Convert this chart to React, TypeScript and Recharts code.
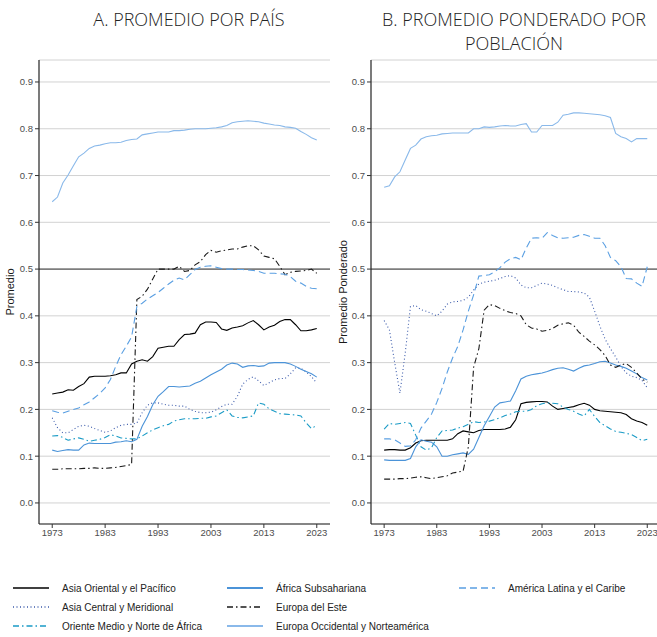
import { CartesianGrid, Line, LineChart, ReferenceLine, XAxis, YAxis } from "recharts";

const YEARS = [
  1973, 1974, 1975, 1976, 1977, 1978, 1979, 1980, 1981, 1982,
  1983, 1984, 1985, 1986, 1987, 1988, 1989, 1990, 1991, 1992,
  1993, 1994, 1995, 1996, 1997, 1998, 1999, 2000, 2001, 2002,
  2003, 2004, 2005, 2006, 2007, 2008, 2009, 2010, 2011, 2012,
  2013, 2014, 2015, 2016, 2017, 2018, 2019, 2020, 2021, 2022,
  2023,
];

const X_TICKS = [1973, 1983, 1993, 2003, 2013, 2023];
const Y_TICKS = [0, 0.1, 0.2, 0.3, 0.4, 0.5, 0.6, 0.7, 0.8, 0.9];

// A. Promedio por país
const A_ASIA_ORIENTAL = [
  0.233, 0.235, 0.237, 0.242, 0.241, 0.249, 0.255, 0.269, 0.271, 0.271,
  0.271, 0.272, 0.274, 0.278, 0.278, 0.297, 0.303, 0.306, 0.303, 0.313,
  0.331, 0.333, 0.335, 0.335, 0.349, 0.36, 0.361, 0.363, 0.381, 0.387,
  0.387, 0.386, 0.372, 0.369, 0.374, 0.376, 0.379, 0.385, 0.39, 0.381,
  0.37, 0.376, 0.38, 0.388, 0.392, 0.392, 0.381, 0.368, 0.368, 0.37,
  0.373,
];
const A_ASIA_CENTRAL = [
  0.182, 0.161, 0.15, 0.15, 0.157, 0.164, 0.166, 0.164, 0.159, 0.155,
  0.151, 0.154, 0.161, 0.166, 0.168, 0.168, 0.171, 0.193, 0.209, 0.214,
  0.214, 0.211, 0.209, 0.209, 0.207, 0.207, 0.2, 0.196, 0.193, 0.193,
  0.194, 0.199, 0.206, 0.211, 0.211, 0.228, 0.254, 0.264, 0.27, 0.261,
  0.251, 0.257, 0.263, 0.266, 0.266, 0.276, 0.289, 0.288, 0.28, 0.27,
  0.256,
];
const A_ORIENTE = [
  0.143, 0.144, 0.14, 0.134, 0.137, 0.139, 0.136, 0.132, 0.134, 0.136,
  0.14, 0.146, 0.143, 0.139, 0.138, 0.137, 0.137, 0.143, 0.15, 0.156,
  0.161, 0.165, 0.168, 0.175, 0.178, 0.18, 0.18, 0.18, 0.181, 0.181,
  0.184, 0.186, 0.193, 0.199, 0.186, 0.183, 0.182, 0.184, 0.186, 0.214,
  0.211, 0.201, 0.196, 0.191, 0.19, 0.189, 0.188, 0.186, 0.171, 0.159,
  0.166,
];
const A_AFRICA = [
  0.113, 0.11, 0.112, 0.114, 0.113, 0.113, 0.124, 0.128, 0.127, 0.127,
  0.127, 0.127, 0.13, 0.131, 0.133, 0.131, 0.136, 0.164, 0.185, 0.21,
  0.228, 0.238, 0.249, 0.249, 0.248, 0.249, 0.25, 0.256, 0.26, 0.267,
  0.274, 0.28, 0.286, 0.295, 0.299, 0.297, 0.29, 0.293, 0.294, 0.292,
  0.293, 0.299, 0.3, 0.3, 0.3, 0.297, 0.292, 0.286, 0.281, 0.276,
  0.269,
];
const A_EUROPA_ESTE = [
  0.072, 0.072, 0.073, 0.073, 0.073, 0.073, 0.074, 0.074, 0.075, 0.074,
  0.074, 0.075, 0.076, 0.078, 0.08, 0.082, 0.435, 0.442, 0.457, 0.479,
  0.5, 0.5, 0.5, 0.5, 0.506, 0.495, 0.497, 0.509, 0.516, 0.531,
  0.54, 0.536, 0.539, 0.541, 0.543, 0.543, 0.547, 0.55, 0.55, 0.541,
  0.528, 0.525, 0.522, 0.506, 0.488, 0.493, 0.495, 0.496, 0.497, 0.5,
  0.491,
];
const A_EUROPA_OCC = [
  0.644, 0.654, 0.684, 0.701, 0.721, 0.74, 0.748, 0.758, 0.763, 0.765,
  0.768, 0.77, 0.77, 0.771, 0.775, 0.777, 0.778, 0.787, 0.789, 0.791,
  0.793, 0.793, 0.793, 0.796, 0.796, 0.797, 0.799, 0.8, 0.8, 0.8,
  0.801, 0.802, 0.804, 0.807, 0.813, 0.815, 0.816, 0.817, 0.816, 0.815,
  0.812, 0.81, 0.808, 0.807, 0.804, 0.803, 0.801, 0.794, 0.788, 0.781,
  0.776,
];
const A_AMERICA_LATINA = [
  0.197, 0.194, 0.192, 0.196, 0.2, 0.203, 0.21, 0.216, 0.225, 0.234,
  0.246, 0.264, 0.292, 0.317, 0.335, 0.355, 0.42, 0.427, 0.436, 0.443,
  0.45, 0.459, 0.468, 0.476, 0.481, 0.477, 0.488, 0.499, 0.504, 0.506,
  0.507, 0.504, 0.501, 0.5, 0.5, 0.499, 0.499, 0.498, 0.497, 0.495,
  0.491, 0.491, 0.491, 0.49, 0.489, 0.484, 0.474, 0.47, 0.463, 0.459,
  0.458,
];

// B. Promedio ponderado por población
const B_ASIA_ORIENTAL = [
  0.113, 0.114, 0.114, 0.113, 0.113, 0.118, 0.128, 0.133, 0.134, 0.134,
  0.134, 0.134, 0.134, 0.137, 0.148, 0.154, 0.152, 0.15, 0.155, 0.157,
  0.157, 0.157, 0.157, 0.158, 0.162, 0.178, 0.212, 0.215, 0.216, 0.217,
  0.217, 0.216, 0.207, 0.2, 0.202, 0.204, 0.206, 0.21, 0.213, 0.209,
  0.2, 0.197, 0.196, 0.195, 0.194, 0.193, 0.189, 0.18, 0.175, 0.172,
  0.166,
];
const B_ASIA_CENTRAL = [
  0.39, 0.37, 0.3, 0.235, 0.32, 0.42, 0.422, 0.413, 0.41, 0.405,
  0.4, 0.41, 0.425, 0.43, 0.431, 0.433, 0.44, 0.455, 0.468, 0.472,
  0.474, 0.476, 0.48, 0.484, 0.486, 0.481, 0.466, 0.46, 0.46, 0.465,
  0.47, 0.468, 0.465, 0.46, 0.456, 0.452, 0.452, 0.451, 0.449, 0.44,
  0.41, 0.378, 0.35, 0.33, 0.312, 0.292, 0.278, 0.271, 0.268, 0.262,
  0.246,
];
const B_ORIENTE = [
  0.158, 0.17, 0.168, 0.17, 0.172, 0.17, 0.145, 0.12, 0.113, 0.118,
  0.14, 0.154, 0.155, 0.156, 0.16, 0.163, 0.168, 0.174, 0.172, 0.173,
  0.175, 0.178, 0.182, 0.187, 0.19, 0.195, 0.196, 0.196, 0.2, 0.208,
  0.212, 0.214, 0.213, 0.212, 0.205, 0.2, 0.196, 0.19, 0.186, 0.2,
  0.185, 0.172, 0.165, 0.158, 0.153, 0.151, 0.149, 0.146, 0.14, 0.133,
  0.136,
];
const B_AFRICA = [
  0.092, 0.091, 0.091, 0.091, 0.091, 0.095, 0.12, 0.135, 0.132, 0.13,
  0.12, 0.1, 0.1, 0.103, 0.105, 0.107, 0.104, 0.115, 0.14, 0.165,
  0.185, 0.205, 0.214, 0.216, 0.218, 0.24, 0.265, 0.271, 0.274, 0.276,
  0.278, 0.281, 0.285, 0.288, 0.289, 0.286, 0.282, 0.288, 0.293, 0.295,
  0.298, 0.302, 0.303, 0.299, 0.295, 0.292, 0.288, 0.282, 0.276, 0.268,
  0.263,
];
const B_EUROPA_ESTE = [
  0.051, 0.051, 0.051, 0.052, 0.052, 0.053, 0.055, 0.056, 0.054, 0.052,
  0.054, 0.056, 0.058, 0.064, 0.066, 0.068, 0.12, 0.29, 0.33, 0.412,
  0.424, 0.422, 0.416, 0.411, 0.407, 0.405, 0.4, 0.381, 0.374, 0.372,
  0.367, 0.369, 0.373, 0.38, 0.383, 0.385, 0.38, 0.365, 0.356, 0.346,
  0.338, 0.328, 0.315, 0.295, 0.29, 0.295, 0.298, 0.29, 0.278, 0.265,
  0.258,
];
const B_EUROPA_OCC = [
  0.675, 0.678, 0.697, 0.708, 0.733, 0.758, 0.765, 0.778, 0.783, 0.785,
  0.786, 0.789, 0.79, 0.791, 0.791, 0.791, 0.791, 0.8, 0.8, 0.804,
  0.803, 0.804, 0.806, 0.807, 0.806, 0.806, 0.809, 0.811, 0.793, 0.793,
  0.807, 0.807, 0.807, 0.814, 0.829, 0.831, 0.834, 0.834, 0.833, 0.832,
  0.831, 0.83, 0.828, 0.824, 0.79, 0.783, 0.779, 0.772, 0.779, 0.779,
  0.779,
];
const B_AMERICA_LATINA = [
  0.137, 0.137, 0.135, 0.128, 0.121, 0.122, 0.135, 0.16, 0.175, 0.19,
  0.215, 0.245, 0.28, 0.31, 0.335, 0.37, 0.41, 0.445, 0.485, 0.486,
  0.488, 0.494, 0.503, 0.515, 0.522, 0.525, 0.52, 0.545, 0.566, 0.567,
  0.566, 0.578, 0.572, 0.567, 0.566, 0.567, 0.568, 0.572, 0.574, 0.57,
  0.566, 0.566, 0.55, 0.525, 0.518, 0.505, 0.48, 0.479, 0.47, 0.463,
  0.505,
];

const SERIES = [
  { key: "asiaOriental", name: "Asia Oriental y el Pacífico", color: "#000000", dash: undefined },
  { key: "asiaCentral", name: "Asia Central y Meridional", color: "#3c5bab", dash: "1 2.5" },
  { key: "oriente", name: "Oriente Medio y Norte de África", color: "#1a9bc6", dash: "6 3 1.5 3" },
  { key: "africa", name: "África Subsahariana", color: "#4b93d8", dash: undefined },
  { key: "europaEste", name: "Europa del Este", color: "#1a1a1a", dash: "6 3 1.5 3" },
  { key: "europaOcc", name: "Europa Occidental y Norteamérica", color: "#8ab9ea", dash: undefined },
  { key: "americaLatina", name: "América Latina y el Caribe", color: "#5a9fe2", dash: "7 4" },
];

const dataA = YEARS.map((year, i) => ({
  year,
  asiaOriental: A_ASIA_ORIENTAL[i],
  asiaCentral: A_ASIA_CENTRAL[i],
  oriente: A_ORIENTE[i],
  africa: A_AFRICA[i],
  europaEste: A_EUROPA_ESTE[i],
  europaOcc: A_EUROPA_OCC[i],
  americaLatina: A_AMERICA_LATINA[i],
}));

const dataB = YEARS.map((year, i) => ({
  year,
  asiaOriental: B_ASIA_ORIENTAL[i],
  asiaCentral: B_ASIA_CENTRAL[i],
  oriente: B_ORIENTE[i],
  africa: B_AFRICA[i],
  europaEste: B_EUROPA_ESTE[i],
  europaOcc: B_EUROPA_OCC[i],
  americaLatina: B_AMERICA_LATINA[i],
}));

// legend placement: column x and row
const LEGEND_POS = [
  { x: 12, row: 0 },
  { x: 12, row: 1 },
  { x: 12, row: 2 },
  { x: 226, row: 0 },
  { x: 226, row: 1 },
  { x: 226, row: 2 },
  { x: 458, row: 0 },
];

const FONT = "'Liberation Sans', Arial, sans-serif";

interface PanelProps {
  data: typeof dataA;
  width: number;
  yAxisWidth: number;
  yLabel: string;
  labelOffset: number;
  xMax: number;
}

function Panel({ data, width, yAxisWidth, yLabel, labelOffset, xMax }: PanelProps) {
  return (
    <LineChart
      width={width}
      height={544}
      data={data}
      margin={{ top: 60, right: 0, bottom: 0, left: 0 }}
      style={{ fontFamily: FONT }}
    >
      <CartesianGrid vertical={false} stroke="#d2d2d2" strokeWidth={1} />
      <XAxis
        dataKey="year"
        type="number"
        domain={[1970.5, xMax]}
        ticks={X_TICKS}
        interval={0}
        allowDataOverflow
        height={20}
        tick={{ fontSize: 9.5, fill: "#4d4d4d" }}
        tickSize={4}
        tickMargin={1}
        axisLine={{ stroke: "#222", strokeWidth: 1.2 }}
        tickLine={{ stroke: "#333" }}
      />
      <YAxis
        type="number"
        domain={[-0.045, 0.947]}
        ticks={Y_TICKS}
        interval={0}
        allowDataOverflow
        width={yAxisWidth}
        tickFormatter={(v: number) => v.toFixed(1)}
        tick={{ fontSize: 9.5, fill: "#4d4d4d" }}
        tickSize={4}
        tickMargin={2}
        axisLine={{ stroke: "#222", strokeWidth: 1.2 }}
        tickLine={{ stroke: "#333" }}
        label={{
          value: yLabel,
          angle: -90,
          position: "insideLeft",
          offset: labelOffset,
          style: { textAnchor: "middle", fontSize: 11, fill: "#1a1a1a" },
        }}
      />
      <ReferenceLine y={0.5} stroke="#333" strokeWidth={1} />
      {SERIES.map((s) => (
        <Line
          key={s.key}
          dataKey={s.key}
          name={s.name}
          stroke={s.color}
          strokeWidth={1.1}
          strokeDasharray={s.dash}
          dot={false}
          activeDot={false}
          isAnimationActive={false}
        />
      ))}
    </LineChart>
  );
}

const titleStyle: React.CSSProperties = {
  position: "absolute",
  fontFamily: "'Open Sans', sans-serif",
  fontWeight: 300,
  fontSize: 18,
  lineHeight: "24px",
  color: "#222",
  textAlign: "center",
  whiteSpace: "nowrap",
};

export default function App() {
  return (
    <div
      style={{
        position: "absolute",
        left: 0,
        top: 0,
        width: 657,
        height: 637,
        background: "#fff",
        overflow: "hidden",
      }}
    >
      <div style={{ ...titleStyle, left: 39, width: 300, top: 7 }}>A. PROMEDIO POR PAÍS</div>
      <div style={{ ...titleStyle, left: 364, width: 300, top: 7 }}>
        B. PROMEDIO PONDERADO POR
        <br />
        POBLACIÓN
      </div>

      <div style={{ position: "absolute", left: 0, top: 0 }}>
        <Panel data={dataA} width={330} yAxisWidth={39} yLabel="Promedio" labelOffset={10} xMax={2025.5} />
      </div>
      <div style={{ position: "absolute", left: 330, top: 0 }}>
        <Panel
          data={dataB}
          width={327}
          yAxisWidth={41}
          yLabel="Promedio Ponderado"
          labelOffset={13}
          xMax={2024.85}
        />
      </div>

      {/* Leyenda */}
      {SERIES.map((s, i) => {
        const pos = LEGEND_POS[i];
        return (
          <div
            key={s.key}
            style={{
              position: "absolute",
              left: pos.x,
              top: 580 + pos.row * 19,
              height: 16,
              display: "flex",
              alignItems: "center",
              fontFamily: FONT,
              fontSize: 10,
              color: "#222",
              whiteSpace: "nowrap",
            }}
          >
            <svg width={38} height={6} style={{ marginRight: 12 }}>
              <line
                x1={1}
                y1={3}
                x2={37}
                y2={3}
                stroke={s.color}
                strokeWidth={s.key === "europaOcc" || s.key === "africa" ? 2 : 1.4}
                strokeDasharray={s.dash}
              />
            </svg>
            {s.name}
          </div>
        );
      })}
    </div>
  );
}
